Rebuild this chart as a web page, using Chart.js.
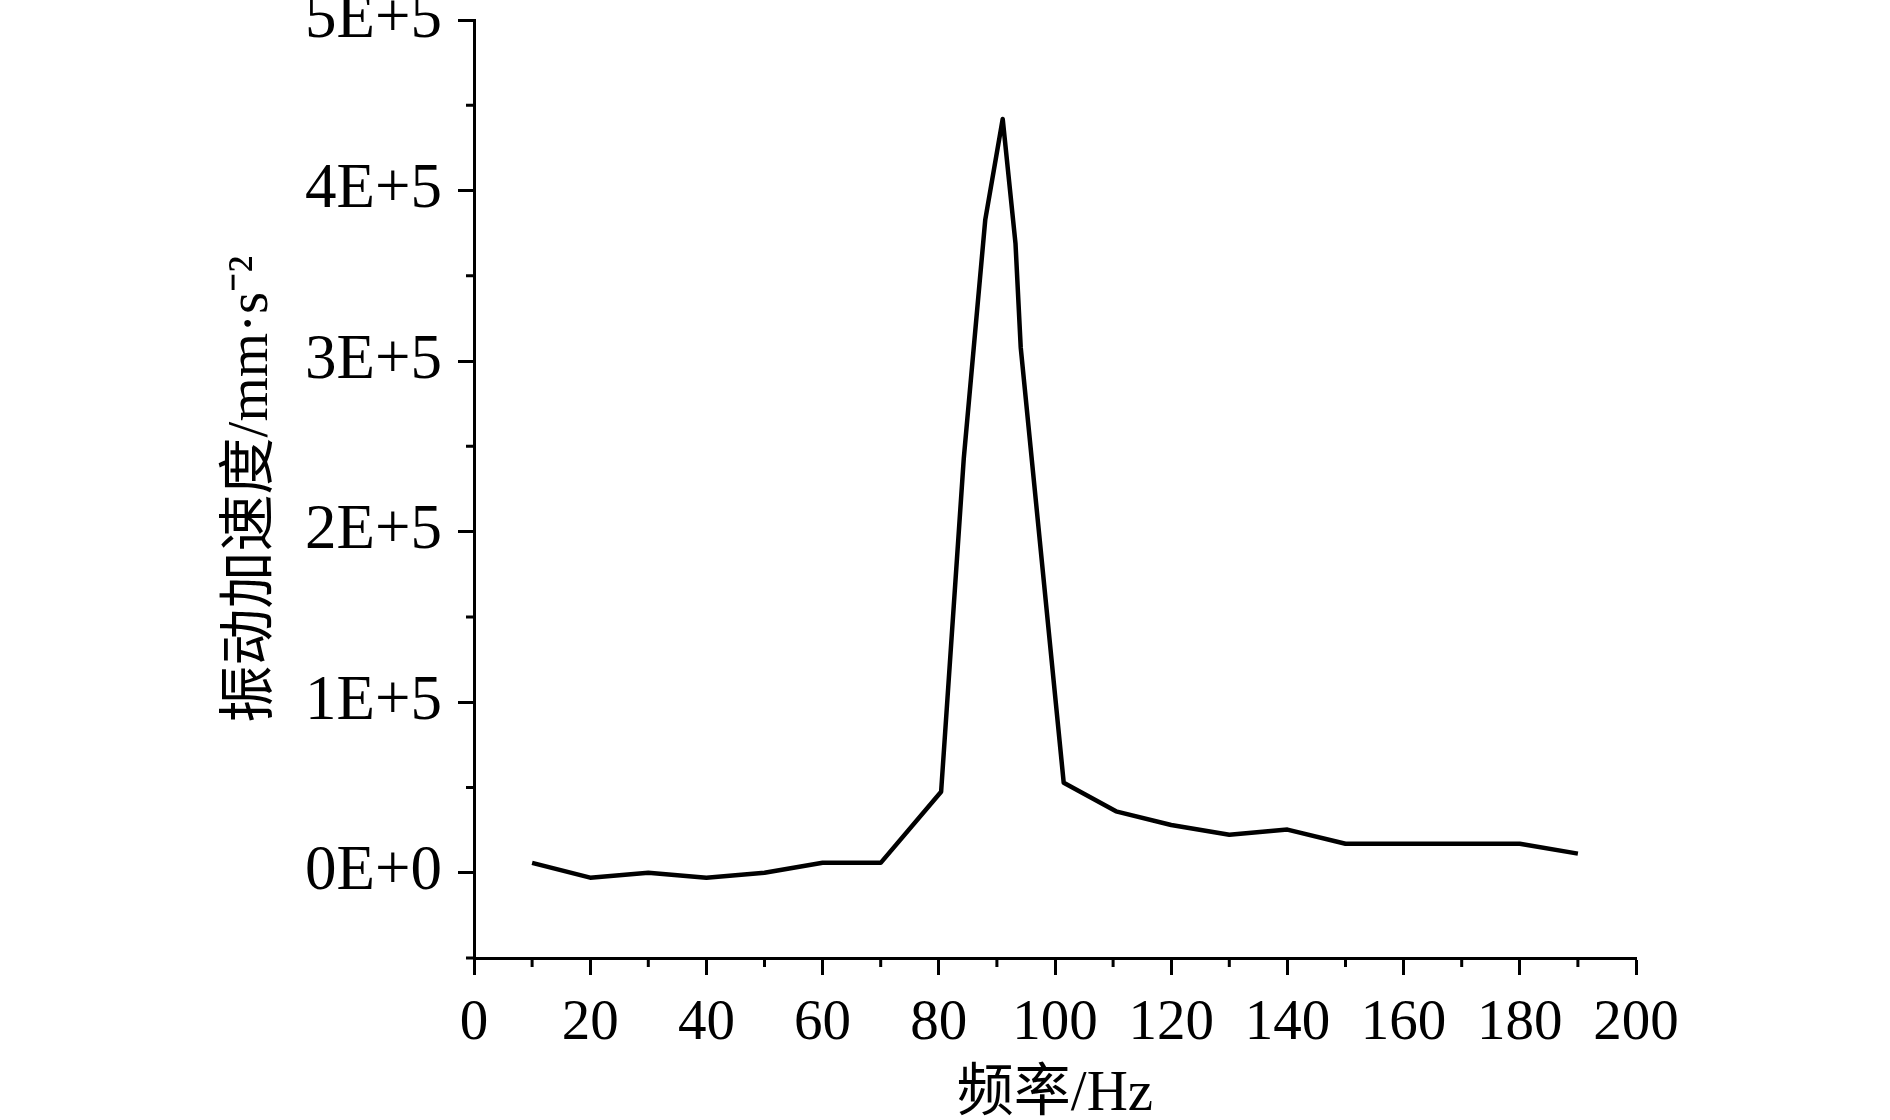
<!DOCTYPE html>
<html><head><meta charset="utf-8">
<script src="https://cdn.jsdelivr.net/npm/chart.js@4"></script>
<style>
html,body{margin:0;padding:0;overflow:hidden;background:#fff;width:1890px;height:1120px;}
#c{position:absolute;left:0;top:-60px;}
</style></head>
<body><canvas id="c" width="1890" height="1200"></canvas>
<script>
const freqHz = [10,20,30,40,50,60,70,80.4,84.3,88,91,93.2,94.1,101.5,110.5,120,130,140,150,160,170,180,190];
const accel  = [5800,-2900,0,-2900,0,5800,5800,47500,243000,383000,442000,369000,308000,52800,36000,28000,22300,25300,17000,17000,17000,17000,11200];
const xTickValues = [0,20,40,60,80,100,120,140,160,180,200];
const xTickLabels = ['0','20','40','60','80','100','120','140','160','180','200'];
const xMinorValues = [10,30,50,70,90,110,130,150,170,190];
const yTickValues = [0,100000,200000,300000,400000,500000];
const yTickLabels = ['0E+0','1E+5','2E+5','3E+5','4E+5','5E+5'];
const yMinorValues = [-50000,50000,150000,250000,350000,450000];
const xTitle = '频率/Hz';
const yTitle = '振动加速度/mm·s⁻²';

const FONT = '"Liberation Serif", "Times New Roman", "Noto Sans CJK SC", serif';

const minorTicks = {
  id: 'minorTicks',
  afterDraw(chart) {
    const {ctx, scales: {x, y}, chartArea: a} = chart;
    ctx.save();
    ctx.strokeStyle = '#000';
    ctx.lineWidth = 3;
    ctx.beginPath();
    xMinorValues.forEach(v => { const px = x.getPixelForValue(v); ctx.moveTo(px, a.bottom); ctx.lineTo(px, a.bottom + 9); });
    yMinorValues.forEach(v => { const py = y.getPixelForValue(v); ctx.moveTo(a.left, py); ctx.lineTo(a.left - 8, py); });
    ctx.stroke();
    ctx.restore();
  }
};

new Chart(document.getElementById('c'), {
  type: 'scatter',
  data: {
    datasets: [{
      data: freqHz.map((f, i) => ({x: f, y: accel[i]})),
      showLine: true,
      borderColor: '#000',
      borderWidth: 4.5,
      borderJoinStyle: 'round',
      pointRadius: 0,
      tension: 0,
      fill: false
    }]
  },
  options: {
    responsive: false,
    devicePixelRatio: 1,
    animation: false,
    layout: { padding: { left: 218, right: 254, top: 80, bottom: 11 } },
    plugins: { legend: { display: false }, tooltip: { enabled: false } },
    scales: {
      x: {
        type: 'linear', min: 0, max: 200,
        afterBuildTicks: s => { s.ticks = xTickValues.map(v => ({value: v})); },
        afterFit: s => { s.height = 171; },
        ticks: {
          color: '#000', padding: 15, maxRotation: 0, autoSkip: false,
          font: { family: FONT, size: 57 },
          callback: v => xTickLabels[xTickValues.indexOf(v)] ?? ''
        },
        grid: { drawOnChartArea: false, drawTicks: true, tickLength: 17, tickWidth: 3, tickColor: '#000' },
        border: { display: true, color: '#000', width: 3 },
        title: { display: true, text: xTitle, color: '#000', padding: 0, font: { family: FONT, size: 57 } }
      },
      y: {
        type: 'linear', min: -50000, max: 500000,
        afterBuildTicks: s => { s.ticks = yTickValues.map(v => ({value: v})); },
        afterFit: s => { s.width = 256; },
        ticks: {
          color: '#000', padding: 16, autoSkip: false,
          font: { family: FONT, size: 63 },
          callback: v => yTickLabels[yTickValues.indexOf(v)] ?? ''
        },
        grid: { drawOnChartArea: false, drawTicks: true, tickLength: 16, tickWidth: 3, tickColor: '#000' },
        border: { display: true, color: '#000', width: 3 },
        title: { display: true, text: yTitle, color: '#000', padding: 0, font: { family: FONT, size: 57 } }
      }
    }
  },
  plugins: [minorTicks]
});
</script>
</body></html>
